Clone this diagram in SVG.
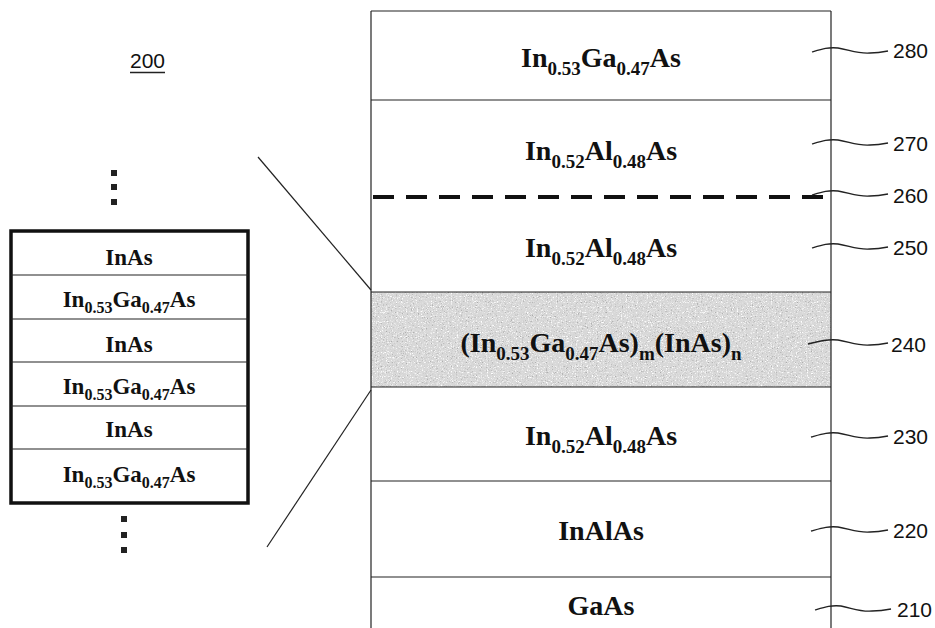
<svg xmlns="http://www.w3.org/2000/svg" width="935" height="628" viewBox="0 0 935 628">
<style>
.lay{font-family:"Liberation Serif","Times New Roman",serif;font-weight:bold;font-size:28px;fill:#111;text-anchor:middle}
.lay .s{font-size:19px}
.sm{font-family:"Liberation Serif","Times New Roman",serif;font-weight:bold;font-size:23px;fill:#111;text-anchor:middle}
.sm .s{font-size:16px}
.num{font-family:"Liberation Sans",Arial,sans-serif;font-size:21px;fill:#111}
.thin{stroke:#222;stroke-width:1.2;fill:none}
.sq{fill:none;stroke:#222;stroke-width:1.3}
.dot{fill:#222}
</style>
<defs>
<filter id="speckle" x="0" y="0" width="100%" height="100%">
<feTurbulence type="fractalNoise" baseFrequency="0.8" numOctaves="2" seed="3" result="n"/>
<feColorMatrix in="n" type="matrix" values="0 0 0 0 0.4  0 0 0 0 0.4  0 0 0 0 0.4  4 0 0 0 -2.35" result="d"/>
<feColorMatrix in="n" type="matrix" values="0 0 0 0 1  0 0 0 0 1  0 0 0 0 1  0 -4 0 0 1.8" result="w"/>
<feMerge result="m"><feMergeNode in="d"/><feMergeNode in="w"/></feMerge>
<feComposite in="m" in2="SourceGraphic" operator="in"/>
</filter>
</defs>

<g id="label-200">
<text class="num" x="147.5" y="68" text-anchor="middle">200</text>
<line x1="130" y1="72.5" x2="165" y2="72.5" stroke="#222" stroke-width="1.5"/>
</g>

<g id="dots-top">
<rect class="dot" x="111" y="170" width="6" height="6"/>
<rect class="dot" x="111" y="184" width="6" height="6"/>
<rect class="dot" x="111" y="199" width="6" height="6"/>
</g>
<g id="dots-bottom">
<rect class="dot" x="121" y="516" width="6" height="6"/>
<rect class="dot" x="121" y="532" width="6" height="6"/>
<rect class="dot" x="121" y="547" width="6" height="6"/>
</g>

<g id="superlattice-detail">
<rect x="11" y="231" width="237" height="272" fill="#fff" stroke="#111" stroke-width="3.5"/>
<g class="thin">
<line x1="11" y1="275" x2="248" y2="275"/>
<line x1="11" y1="319" x2="248" y2="319"/>
<line x1="11" y1="362" x2="248" y2="362"/>
<line x1="11" y1="406" x2="248" y2="406"/>
<line x1="11" y1="449" x2="248" y2="449"/>
</g>
<text class="sm" x="129" y="265">InAs</text>
<text class="sm" x="129" y="307">In<tspan class="s" dy="6">0.53</tspan><tspan dy="-6">Ga</tspan><tspan class="s" dy="6">0.47</tspan><tspan dy="-6">As</tspan></text>
<text class="sm" x="129" y="352">InAs</text>
<text class="sm" x="129" y="394">In<tspan class="s" dy="6">0.53</tspan><tspan dy="-6">Ga</tspan><tspan class="s" dy="6">0.47</tspan><tspan dy="-6">As</tspan></text>
<text class="sm" x="129" y="437">InAs</text>
<text class="sm" x="129" y="482">In<tspan class="s" dy="6">0.53</tspan><tspan dy="-6">Ga</tspan><tspan class="s" dy="6">0.47</tspan><tspan dy="-6">As</tspan></text>
</g>

<g id="connectors">
<line class="thin" x1="258" y1="157" x2="371" y2="290"/>
<line class="thin" x1="371" y1="390" x2="267" y2="547"/>
</g>

<g id="layer-240">
<rect x="371" y="292" width="460" height="95" fill="#d8d8d8"/>
<rect x="371" y="292" width="460" height="95" fill="#d8d8d8" filter="url(#speckle)"/>
<text class="lay" x="601" y="352">(In<tspan class="s" dy="8">0.53</tspan><tspan dy="-8">Ga</tspan><tspan class="s" dy="8">0.47</tspan><tspan dy="-8">As)</tspan><tspan class="s" dy="8">m</tspan><tspan dy="-8">(InAs)</tspan><tspan class="s" dy="8">n</tspan></text>
</g>

<g id="stack-frame" class="thin">
<line x1="371" y1="11" x2="831" y2="11"/>
<line x1="371" y1="11" x2="371" y2="628"/>
<line x1="831" y1="11" x2="831" y2="628"/>
<line x1="371" y1="100" x2="831" y2="100"/>
<line x1="371" y1="292" x2="831" y2="292"/>
<line x1="371" y1="387" x2="831" y2="387"/>
<line x1="371" y1="481" x2="831" y2="481"/>
<line x1="371" y1="577" x2="831" y2="577"/>
</g>

<g id="layer-280"><text class="lay" x="601" y="67">In<tspan class="s" dy="8">0.53</tspan><tspan dy="-8">Ga</tspan><tspan class="s" dy="8">0.47</tspan><tspan dy="-8">As</tspan></text></g>
<g id="layer-270"><text class="lay" x="601" y="160">In<tspan class="s" dy="8">0.52</tspan><tspan dy="-8">Al</tspan><tspan class="s" dy="8">0.48</tspan><tspan dy="-8">As</tspan></text></g>
<g id="layer-260"><line x1="373" y1="197" x2="831" y2="197" stroke="#111" stroke-width="4" stroke-dasharray="21 12"/></g>
<g id="layer-250"><text class="lay" x="601" y="257">In<tspan class="s" dy="8">0.52</tspan><tspan dy="-8">Al</tspan><tspan class="s" dy="8">0.48</tspan><tspan dy="-8">As</tspan></text></g>
<g id="layer-230"><text class="lay" x="601" y="445">In<tspan class="s" dy="8">0.52</tspan><tspan dy="-8">Al</tspan><tspan class="s" dy="8">0.48</tspan><tspan dy="-8">As</tspan></text></g>
<g id="layer-220"><text class="lay" x="601" y="540">InAlAs</text></g>
<g id="layer-210"><text class="lay" x="601" y="615">GaAs</text></g>

<g id="ref-labels">
<path class="sq" d="M812 52 C822 49 828 47 838 48 C850 50 858 54 870 53 C878 53 883 52 888 51"/>
<text class="num" x="893" y="58">280</text>
<path class="sq" d="M812 144 C822 141 828 139 838 140 C850 142 858 146 870 145 C878 145 883 144 888 143"/>
<text class="num" x="893" y="151">270</text>
<path class="sq" d="M812 195 C822 192 828 190 838 191 C850 193 858 197 870 196 C878 196 883 195 888 194"/>
<text class="num" x="893" y="203">260</text>
<path class="sq" d="M812 248 C822 245 828 243 838 244 C850 246 858 250 870 249 C878 249 883 248 888 247"/>
<text class="num" x="893" y="255">250</text>
<path class="sq" d="M808 344 C820 341 828 339 838 340 C850 342 858 346 870 345 C878 345 883 344 888 343"/>
<text class="num" x="891" y="352">240</text>
<path class="sq" d="M811 437 C822 434 828 432 838 433 C850 435 858 439 870 438 C878 438 883 437 888 436"/>
<text class="num" x="893" y="444">230</text>
<path class="sq" d="M811 531 C822 528 828 526 838 527 C850 529 858 533 870 532 C878 532 883 531 888 530"/>
<text class="num" x="893" y="538">220</text>
<path class="sq" d="M815 610 C825 607 831 605 841 606 C852 608 860 612 872 611 C880 611 886 610 891 609"/>
<text class="num" x="897" y="617">210</text>
</g>
</svg>
